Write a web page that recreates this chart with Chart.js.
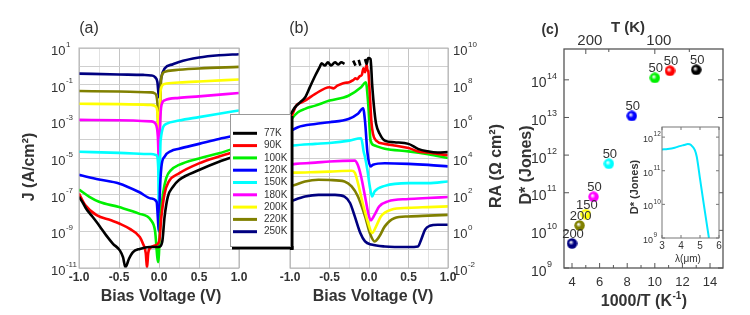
<!DOCTYPE html>
<html><head><meta charset="utf-8">
<script src="https://cdn.jsdelivr.net/npm/chart.js@4.4.1/dist/chart.umd.min.js"></script>
<style>
html,body{margin:0;padding:0;background:#fff;width:750px;height:315px;overflow:hidden}
canvas{position:absolute;left:0;top:0}
</style></head><body>
<canvas id="ca" width="750" height="315"></canvas>
<canvas id="cb" width="750" height="315"></canvas>
<canvas id="cc" width="750" height="315"></canvas>
<canvas id="ci" width="750" height="315"></canvas>
<script>
// ---------- shared ----------
const temps = ['77K','90K','100K','120K','150K','180K','200K','220K','250K'];
const colors = ['#000000','#ff0000','#00f000','#0000ff','#00ffff','#ff00ff','#ffff00','#808000','#000080'];

// ---------- panel (a): J vs bias ----------
const jvV77 = [-1,-0.95,-0.91,-0.85,-0.78,-0.72,-0.66,-0.575,-0.49,-0.45,-0.42,-0.375,-0.325,-0.24,-0.12,0.0,0.04,0.07,0.11,0.175,0.25,0.5,0.75,1.0];
const jvJ77 = [7.6e-8,3.5e-8,1.7e-8,7.9e-9,3.2e-9,1.4e-9,6.0e-10,2.1e-10,9.1e-11,3.9e-11,1.1e-11,3.2e-11,7.4e-11,1.1e-10,1.4e-10,1.4e-10,2.6e-10,6.3e-9,7.6e-8,2.7e-7,6.3e-7,2.2e-6,6.3e-6,1.4e-5];
const jvV90 = [-1,-0.92,-0.78,-0.6,-0.49,-0.37,-0.24,-0.2,-0.165,-0.15,-0.135,-0.12,-0.05,0.0,0.03,0.07,0.12,0.25,0.5,0.75,1.0];
const jvJ90 = [1.15e-7,2.6e-8,7.6e-9,4.0e-9,2.6e-9,1.4e-9,4.9e-10,2.1e-10,6.3e-11,1.0e-11,6.3e-11,1.1e-10,1.7e-10,2.6e-10,6.3e-9,1.15e-7,5.0e-7,1.45e-6,5.1e-6,1.2e-5,2.5e-5];
const jvV100 = [-1,-0.87,-0.75,-0.5,-0.25,-0.1,-0.05,-0.01,0.02,0.05,0.09,0.15,0.25,0.5,0.75,1.0];
const jvJ100 = [1.9e-7,7.6e-8,4.1e-8,2.1e-8,9.3e-9,4.0e-9,1.1e-9,2.1e-11,6.3e-9,1.1e-7,7.9e-7,2.2e-6,4.2e-6,9.5e-6,1.8e-5,4.0e-5];
const jvV120 = [-1,-0.75,-0.5,-0.25,-0.1,-0.03,0.0,0.01,0.03,0.07,0.15,0.25,0.5,0.75,1.0];
const jvJ120 = [1.2e-6,6.8e-7,4.1e-7,1.4e-7,6.2e-8,4.1e-8,1.0e-9,1.0e-7,3.3e-6,1.2e-5,2.4e-5,3.2e-5,5.9e-5,1.1e-4,1.9e-4];
const jvV150 = [-1,-0.5,-0.1,-0.03,-0.01,0.0,0.01,0.02,0.09,0.25,0.5,0.75,1.0];
const jvJ150 = [2.2e-5,1.9e-5,1.65e-5,1.4e-5,3.2e-6,1.0e-9,1.0e-6,8.9e-5,7.2e-4,1.1e-3,1.7e-3,2.6e-3,3.9e-3];
const jvV180 = [-1,-0.5,-0.1,-0.04,-0.015,0.0,0.015,0.03,0.07,0.25,0.5,1.0];
const jvJ180 = [1.2e-3,1.15e-3,1.0e-3,7.2e-4,1.6e-4,5.0e-6,1.0e-3,7.4e-3,1.4e-2,1.9e-2,2.3e-2,3.5e-2];
const jvV200 = [-1,-0.5,-0.1,-0.04,-0.015,0.0,0.015,0.03,0.07,0.25,0.5,1.0];
const jvJ200 = [9.1e-3,8.7e-3,7.9e-3,6.3e-3,1.6e-3,1.3e-5,1.6e-2,7.4e-2,0.11,0.13,0.15,0.19];
const jvV220 = [-1,-0.5,-0.1,-0.05,-0.02,0.0,0.02,0.03,0.07,0.2,0.5,1.0];
const jvJ220 = [0.045,0.042,0.038,0.033,0.01,4e-5,0.032,0.26,0.5,0.62,0.76,0.93];
const jvV250 = [-1,-0.5,-0.2,-0.1,-0.05,-0.02,0.0,0.015,0.03,0.07,0.175,0.25,0.5,0.75,1.0];
const jvJ250 = [0.40,0.36,0.34,0.32,0.26,0.14,0.02,0.1,0.26,0.76,1.3,1.74,3.0,4.0,4.6];

// ---------- panel (b): RA vs bias ----------
const raV77 = [-1,-0.94,-0.87,-0.81,-0.75,-0.68,-0.62,-0.6,-0.56,-0.52,-0.48,-0.43,-0.39,-0.35,-0.31,-0.26,-0.2,-0.17,-0.15,-0.13,-0.11,-0.08,-0.05,-0.03,-0.01,0.02,0.04,0.07,0.09,0.135,0.2,0.32,0.5,0.62,0.74,0.87,1.0];
const raR77 = [2.0e6,5.6e6,1.12e7,2.0e7,7.1e7,3.16e8,1.0e9,1.48e9,1.1e9,1.66e9,1.1e9,1.66e9,1.26e9,1.66e9,1.35e9,null,2.04e9,1.1e9,null,2.24e9,1.1e9,null,2.51e9,1.35e9,2.82e9,2.51e9,1.0e8,3.16e6,7.24e5,2.09e5,8.9e4,7.24e4,5.9e4,3.16e4,2.34e4,2.0e4,2.09e4];
const raV90 = [-1,-0.98,-0.92,-0.87,-0.81,-0.68,-0.5,-0.45,-0.4,-0.35,-0.3,-0.25,-0.2,-0.17,-0.15,-0.12,-0.09,-0.07,-0.05,-0.03,-0.02,-0.01,0.01,0.03,0.05,0.09,0.2,0.32,0.5,0.62,0.74,1.0];
const raR90 = [1.6e6,2.0e6,7.2e6,1.0e7,1.35e7,3.16e7,7.2e7,6.3e7,8.9e7,1.1e8,1.26e8,1.35e8,1.78e8,2.2e8,2.0e8,2.8e8,3.5e8,7.9e8,4.8e8,1.26e9,6.3e8,5.6e8,3.16e7,1.0e6,2.1e5,8.9e4,5.9e4,4.8e4,3.5e4,2.3e4,2.0e4,1.4e4];
const raV100 = [-1,-0.98,-0.9,-0.81,-0.68,-0.5,-0.26,-0.1,-0.04,-0.01,0.02,0.07,0.2,0.5,0.75,1.0];
const raR100 = [1.0e6,1.35e6,3.16e6,4.8e6,7.2e6,1.35e7,2.5e7,7.2e7,1.35e8,8.9e6,8.9e4,4.8e4,3.16e4,2.3e4,1.6e4,1.0e4];
const raV120 = [-1,-0.9,-0.68,-0.5,-0.26,-0.14,-0.075,-0.05,-0.02,0.02,0.05,0.2,0.5,0.75,1.0];
const raR120 = [2.8e5,4.8e5,7.2e5,8.9e5,1.35e6,2.6e6,5.2e6,1.0e6,2.0e4,3.5e3,4.3e3,5.2e3,4.8e3,4.2e3,3.5e3];
const raV150 = [-1,-0.96,-0.68,-0.5,-0.25,-0.1,-0.08,-0.07,-0.05,-0.02,0.01,0.04,0.07,0.2,0.5,0.75,1.0];
const raR150 = [4.5e4,4.8e4,5.9e4,6.6e4,8.9e4,1.2e5,5.0e4,2.5e4,1.1e4,2.2e3,2.8e2,79,148,302,427,427,525];
const raV180 = [-1,-0.93,-0.68,-0.5,-0.18,-0.14,-0.1,-0.05,-0.01,0.02,0.07,0.13,0.24,0.5,0.74,1.0];
const raR180 = [4.5e3,4.8e3,5.6e3,6.5e3,7.2e3,4.0e3,980,79,10,4.0,7.9,23,43,58,66,74];
const raV200 = [-1,-0.93,-0.68,-0.5,-0.22,-0.18,-0.14,-0.08,-0.01,0.04,0.09,0.15,0.28,0.5,0.75,1.0];
const raR200 = [1.6e3,1.6e3,1.7e3,1.8e3,2.0e3,1.6e3,430,35,2.8,0.81,1.86,6.5,15,19,21,23];
const raV220 = [-1,-0.93,-0.81,-0.64,-0.5,-0.31,-0.22,-0.14,-0.05,0.01,0.07,0.13,0.2,0.32,0.5,0.75,1.0];
const raR220 = [280,350,525,650,630,525,280,79,6.5,0.81,0.28,0.52,1.86,5.2,6.5,7.2,7.9];
const raV250 = [-1,-0.81,-0.64,-0.43,-0.31,-0.24,-0.18,-0.11,-0.05,0.03,0.2,0.5,0.62,0.66,0.71,0.77,0.87,1.0];
const raR250 = [43,79,98,98,79,35,6.5,0.81,0.28,0.19,0.15,0.14,0.15,0.35,1.23,2.0,2.3,2.3];

// ---------- panel (c): D* vs 1000/T ----------
const cInvT = [13.0,11.1,10.0,8.33,6.67,5.56,5.0,4.55,4.0];
const cDstar = [1.85e14,1.74e14,1.13e14,1.1e13,5.9e11,7.8e10,2.7e10,1.35e10,4.5e9];
const cPointLabels = ['50','50','50','50','50','50','150','200','200'];

// ---------- inset: D* vs wavelength ----------
const inLambda = [3.0,3.3,3.67,3.93,4.15,4.36,4.53,4.73,4.83,5.0,5.2,5.47];
const inDstar = [4.3e11,4.4e11,4.8e11,5.4e11,5.8e11,6.2e11,5.8e11,4.1e11,2.6e11,5.8e10,1.0e10,1.0e9];

// ---------- ticks ----------
const aYTickVals = [1e1,1e-1,1e-3,1e-5,1e-7,1e-9,1e-11];
const aYTickExp = ['1','-1','-3','-5','-7','-9','-11'];
const aGridDecades = [1e-11,1e-10,1e-9,1e-8,1e-7,1e-6,1e-5,1e-4,1e-3,1e-2,1e-1,1e0,1e1];
const bYTickVals = [1e10,1e8,1e6,1e4,1e2,1e0,1e-2];
const bYTickExp = ['10','8','6','4','2','0','-2'];
const bGridDecades = [1e-2,1e-1,1e0,1e1,1e2,1e3,1e4,1e5,1e6,1e7,1e8,1e9,1e10];
const vTickVals = [-1,-0.5,0,0.5,1];
const vTickLabels = ['-1.0','-0.5','0.0','0.5','1.0'];
const cYTickVals = [1e9,1e10,1e11,1e12,1e13,1e14];
const cYTickExp = ['9','10','11','12','13','14'];
const cXTickVals = [4,6,8,10,12,14];
const cXMinor = [5,7,9,11,13];
const cTopT = [200,100];
const cTopMinorT = [150,80];
const inYTickVals = [1e9,1e10,1e11,1e12];
const inYTickExp = ['9','10','11','12'];
const inXTickVals = [3,4,5,6];

// ---------- helpers ----------
const FONT = '"Liberation Sans", Arial, Helvetica, sans-serif';
const TXT = '#333333';
const pts = (xs, ys) => xs.map((x, i) => ({x: x, y: ys[i]}));
const aSeries = [[jvV77,jvJ77],[jvV90,jvJ90],[jvV100,jvJ100],[jvV120,jvJ120],[jvV150,jvJ150],[jvV180,jvJ180],[jvV200,jvJ200],[jvV220,jvJ220],[jvV250,jvJ250]];
const bSeries = [[raV77,raR77],[raV90,raR90],[raV100,raR100],[raV120,raR120],[raV150,raR150],[raV180,raR180],[raV200,raR200],[raV220,raR220],[raV250,raR250]];
const hiddenAxis = {ticks:{display:false}, grid:{display:false, drawTicks:false}, border:{display:false}};

function curveSets(series){
  return series.map((s,i)=>({label:temps[i], data:pts(s[0],s[1]), borderColor:colors[i], backgroundColor:colors[i],
    borderWidth:2.6, pointRadius:0, cubicInterpolationMode:'monotone', spanGaps:false, fill:false}));
}
function baseOpts(pad){
  return {responsive:false, animation:false, devicePixelRatio:1, events:[], layout:{padding:pad, autoPadding:false},
    plugins:{legend:{display:false}, tooltip:{enabled:false}}};
}
function txt(ctx, s, x, y, size, o){
  o = o || {};
  ctx.save();
  ctx.font = (o.bold?'bold ':'') + size + 'px ' + FONT;
  ctx.fillStyle = o.color || TXT; ctx.textAlign = o.align || 'center'; ctx.textBaseline = 'middle';
  if (o.rot){ ctx.translate(x,y); ctx.rotate(o.rot); ctx.fillText(s,0,0); } else ctx.fillText(s,x,y);
  ctx.restore();
}
function powLabel(ctx, x, y, exp, size, supSize){
  ctx.save();
  ctx.fillStyle = TXT; ctx.textBaseline='middle'; ctx.textAlign='left';
  ctx.font = size+'px '+FONT;
  const w = ctx.measureText('10').width;
  ctx.fillText('10', x, y + size*0.27);
  ctx.font = supSize+'px '+FONT;
  ctx.fillText(exp, x + w + 0.5, y - size*0.27);
  ctx.restore();
}
function frame(ctx, a, color, w){
  ctx.save(); ctx.strokeStyle=color; ctx.lineWidth=w;
  ctx.strokeRect(a.left, a.top, a.right-a.left, a.bottom-a.top); ctx.restore();
}
function tickLine(ctx, x1,y1,x2,y2){ ctx.beginPath(); ctx.moveTo(x1,y1); ctx.lineTo(x2,y2); ctx.stroke(); }
const vGridColor = c => (Math.abs(c.tick.value*2 - Math.round(c.tick.value*2)) < 1e-6 ? '#c4c4c4' : '#e2e2e2');

// ---------- chart (a) ----------
new Chart(document.getElementById('ca'), {
  type:'line',
  data:{datasets:curveSets(aSeries)},
  options:Object.assign(baseOpts({left:79, top:48, right:750-239, bottom:315-268}), {
    scales:{
      x:{type:'linear', min:-1, max:1, ticks:{display:false, stepSize:0.25}, grid:{drawTicks:false, color:vGridColor}, border:{display:false}},
      y:{type:'logarithmic', min:1e-11, max:10, afterBuildTicks:s=>{s.ticks = aGridDecades.map(v=>({value:v}));},
         ticks:{display:false}, grid:{drawTicks:false, color:'#cfcfcf'}, border:{display:false}}
    }}),
  plugins:[{id:'decorA', afterDraw(chart){
    const {ctx, chartArea:a, scales:{x, y}} = chart;
    frame(ctx, a, '#b5b5b5', 1);
    aYTickVals.forEach((v,i)=>powLabel(ctx, 51, y.getPixelForValue(v), aYTickExp[i], 13, 8));
    vTickVals.forEach((v,i)=>txt(ctx, vTickLabels[i], x.getPixelForValue(v), 278, 12, {bold:true}));
    txt(ctx, 'Bias Voltage (V)', 161, 297, 16, {bold:true});
    txt(ctx, 'J (A/cm²)', 30, 167, 16, {bold:true, rot:-Math.PI/2});
    txt(ctx, '(a)', 89, 29, 16);
  }}]
});

// ---------- chart (b) ----------
new Chart(document.getElementById('cb'), {
  type:'line',
  data:{datasets:curveSets(bSeries)},
  options:Object.assign(baseOpts({left:290, top:48, right:750-448, bottom:315-268}), {
    scales:{
      x:{type:'linear', min:-1, max:1, ticks:{display:false, stepSize:0.25}, grid:{drawTicks:false, color:vGridColor}, border:{display:false}},
      y:{type:'logarithmic', min:1e-2, max:1e10, afterBuildTicks:s=>{s.ticks = bGridDecades.map(v=>({value:v}));},
         ticks:{display:false}, grid:{drawTicks:false, color:'#cfcfcf'}, border:{display:false}}
    }}),
  plugins:[{id:'decorB', afterDraw(chart){
    const {ctx, chartArea:a, scales:{x, y}} = chart;
    frame(ctx, a, '#b5b5b5', 1);
    bYTickVals.forEach((v,i)=>powLabel(ctx, 453, y.getPixelForValue(v), bYTickExp[i], 13, 8));
    vTickVals.forEach((v,i)=>txt(ctx, vTickLabels[i], x.getPixelForValue(v), 278, 12, {bold:true}));
    txt(ctx, 'Bias Voltage (V)', 373, 297, 16, {bold:true});
    txt(ctx, 'RA (Ω cm²)', 497, 166, 16, {bold:true, rot:-Math.PI/2});
    txt(ctx, '(b)', 299, 29, 16);
    // legend box (overlapping panels a and b)
    ctx.save();
    ctx.fillStyle='#000'; ctx.fillRect(290, 116, 3.5, 134); ctx.fillRect(232, 246, 61.5, 3.5);
    ctx.fillStyle='#fff'; ctx.fillRect(230, 114, 60, 132);
    ctx.strokeStyle='#999'; ctx.lineWidth=1; ctx.strokeRect(230.5, 114.5, 60, 132);
    temps.forEach((t,i)=>{
      const yy = 133.3 + i*12.3;
      ctx.strokeStyle = colors[i]; ctx.lineWidth = 3;
      tickLine(ctx, 233, yy, 257, yy);
      txt(ctx, t, 264, yy, 10, {align:'left'});
    });
    ctx.restore();
  }}]
});

// ---------- chart (c) ----------
function ball(color){
  const c = document.createElement('canvas'); c.width = 11; c.height = 11;
  const g = c.getContext('2d');
  const gr = g.createRadialGradient(4.2,4.2,0.3,5.5,5.5,5.5);
  gr.addColorStop(0,'#ffffff'); gr.addColorStop(0.45,color); gr.addColorStop(1,color);
  g.fillStyle = gr; g.beginPath(); g.arc(5.5,5.5,5.2,0,Math.PI*2); g.fill();
  return c;
}
new Chart(document.getElementById('cc'), {
  type:'scatter',
  data:{datasets:[{data:pts(cInvT,cDstar), pointStyle:colors.map(ball), pointRadius:5.5,
    backgroundColor:colors, borderColor:colors, showLine:false, clip:false}]},
  options:Object.assign(baseOpts({left:564, top:49, right:750-723, bottom:315-268}), {
    scales:{
      x:Object.assign({type:'linear', min:3.42, max:14.94}, hiddenAxis),
      y:Object.assign({type:'logarithmic', min:1e9, max:6.6e14}, hiddenAxis)
    }}),
  plugins:[{id:'decorC', afterDraw(chart){
    const {ctx, chartArea:a, scales:{x, y}} = chart;
    frame(ctx, a, '#555', 1.3);
    ctx.save(); ctx.strokeStyle='#555'; ctx.lineWidth=1;
    cXTickVals.forEach(v=>{const px=x.getPixelForValue(v); tickLine(ctx,px,a.bottom,px,a.bottom-5);});
    cXMinor.forEach(v=>{const px=x.getPixelForValue(v); tickLine(ctx,px,a.bottom,px,a.bottom-3);});
    cYTickVals.forEach(v=>{const py=y.getPixelForValue(v); tickLine(ctx,a.left,py,a.left+5,py); tickLine(ctx,a.right,py,a.right-5,py);});
    cTopT.forEach(t=>{const px=x.getPixelForValue(1000/t); tickLine(ctx,px,a.top,px,a.top+5);});
    cTopMinorT.forEach(t=>{const px=x.getPixelForValue(1000/t); tickLine(ctx,px,a.top,px,a.top+3);});
    ctx.restore();
    cYTickVals.forEach((v,i)=>powLabel(ctx, 531, y.getPixelForValue(v), cYTickExp[i], 14, 9));
    cXTickVals.forEach(v=>txt(ctx, String(v), x.getPixelForValue(v), 282, 13));
    cTopT.forEach(t=>txt(ctx, String(t), x.getPixelForValue(1000/t)+4, 41, 15));
    // point labels
    const meta = chart.getDatasetMeta(0);
    meta.data.forEach((el,i)=>txt(ctx, cPointLabels[i], el.x+1, el.y-9, 13));
    // titles
    txt(ctx, '(c)', 550, 30, 14, {bold:true});
    txt(ctx, 'T (K)', 628, 28, 15, {bold:true});
    txt(ctx, 'D* (Jones)', 527, 165, 16, {bold:true, rot:-Math.PI/2});
    // 1000/T (K^-1)
    ctx.save();
    ctx.font = 'bold 16px '+FONT; ctx.fillStyle=TXT; ctx.textBaseline='middle'; ctx.textAlign='left';
    const p1 = '1000/T (K', p3 = ')';
    const w1 = ctx.measureText(p1).width, w3 = ctx.measureText(p3).width;
    ctx.font = 'bold 10px '+FONT; const w2 = ctx.measureText('-1').width;
    let sx = 644 - (w1+w2+w3+1)/2;
    ctx.font = 'bold 16px '+FONT; ctx.fillText(p1, sx, 302);
    ctx.font = 'bold 10px '+FONT; ctx.fillText('-1', sx+w1+0.5, 296);
    ctx.font = 'bold 16px '+FONT; ctx.fillText(p3, sx+w1+w2+1, 302);
    ctx.restore();
  }}]
});

// ---------- inset ----------
new Chart(document.getElementById('ci'), {
  type:'line',
  data:{datasets:[{data:pts(inLambda,inDstar), borderColor:'#00e8ff', borderWidth:2, pointRadius:0, cubicInterpolationMode:'monotone'}]},
  options:Object.assign(baseOpts({left:662, top:127, right:750-719, bottom:315-238}), {
    scales:{
      x:Object.assign({type:'linear', min:3, max:6}, hiddenAxis),
      y:Object.assign({type:'logarithmic', min:1e9, max:2e12}, hiddenAxis)
    }}),
  plugins:[{id:'decorIn',
    beforeDraw(chart){ const {ctx, chartArea:a} = chart; ctx.save(); ctx.fillStyle='#fff';
      ctx.fillRect(a.left, a.top, a.right-a.left, a.bottom-a.top); ctx.restore(); },
    afterDraw(chart){
      const {ctx, chartArea:a, scales:{x, y}} = chart;
      frame(ctx, a, '#777', 1);
      ctx.save(); ctx.strokeStyle='#777'; ctx.lineWidth=1;
      inXTickVals.forEach(v=>{const px=x.getPixelForValue(v); tickLine(ctx,px,a.bottom,px,a.bottom-3); tickLine(ctx,px,a.top,px,a.top+3);});
      inYTickVals.forEach(v=>{const py=y.getPixelForValue(v); tickLine(ctx,a.left,py,a.left+3,py); tickLine(ctx,a.right,py,a.right-3,py);});
      ctx.restore();
      inYTickVals.forEach((v,i)=>powLabel(ctx, 643, y.getPixelForValue(v), inYTickExp[i], 9, 6.5));
      inXTickVals.forEach(v=>txt(ctx, String(v), x.getPixelForValue(v), 246, 10));
      txt(ctx, 'λ(μm)', 688, 259, 10);
      txt(ctx, 'D* (Jones)', 635, 187, 11, {bold:true, rot:-Math.PI/2});
    }}]
});
</script></body></html>
